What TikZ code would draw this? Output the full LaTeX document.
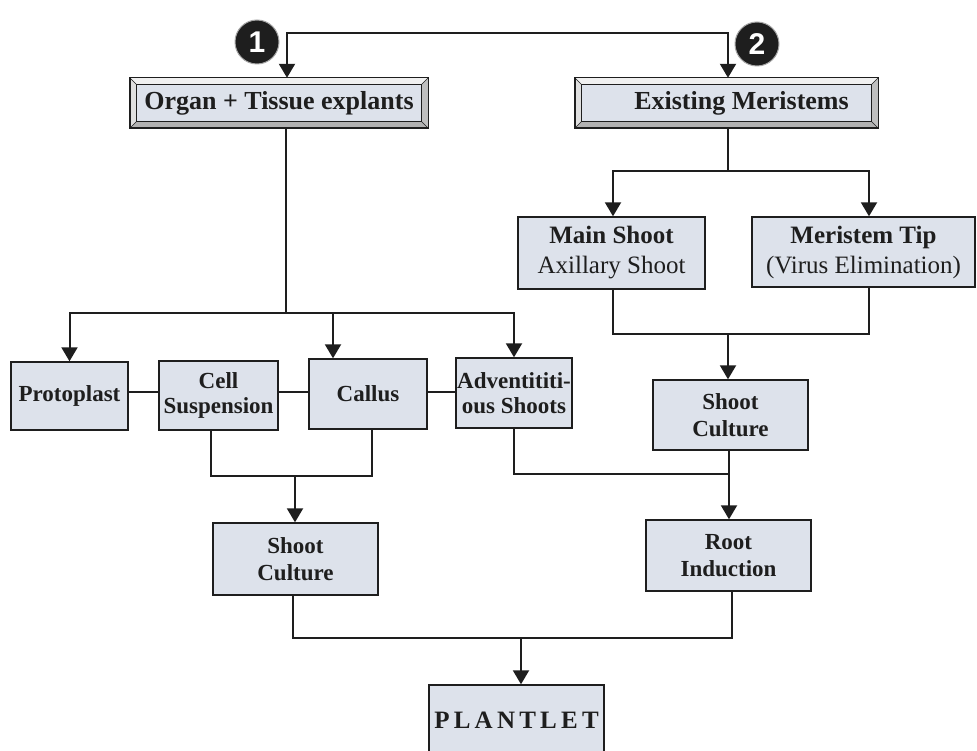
\documentclass[tikz,border=0pt]{standalone}
\usepackage{fontspec}
\setmainfont{Liberation Serif}
\newfontfamily\digitfont{Liberation Sans}
\usetikzlibrary{arrows.meta,backgrounds,calc}
\definecolor{boxfill}{HTML}{DDE2EB}
\definecolor{ink}{HTML}{1E1E1E}
\newcommand{\bevelframe}[1]{%
  \fill[gray!12] (#1.north west) -- (#1.north east) -- ([shift={(-7pt,-7pt)}]#1.north east) -- ([shift={(7pt,-7pt)}]#1.north west) -- cycle;
  \fill[gray!60] (#1.south west) -- (#1.south east) -- ([shift={(-7pt,7pt)}]#1.south east) -- ([shift={(7pt,7pt)}]#1.south west) -- cycle;
  \fill[gray!25] (#1.north west) -- (#1.south west) -- ([shift={(7pt,7pt)}]#1.south west) -- ([shift={(7pt,-7pt)}]#1.north west) -- cycle;
  \fill[gray!50] (#1.north east) -- (#1.south east) -- ([shift={(-7pt,7pt)}]#1.south east) -- ([shift={(-7pt,-7pt)}]#1.north east) -- cycle;
  \draw[ink, line width=0.6pt] (#1.north west) -- ([shift={(7pt,-7pt)}]#1.north west);
  \draw[ink, line width=0.6pt] (#1.north east) -- ([shift={(-7pt,-7pt)}]#1.north east);
  \draw[ink, line width=0.6pt] (#1.south west) -- ([shift={(7pt,7pt)}]#1.south west);
  \draw[ink, line width=0.6pt] (#1.south east) -- ([shift={(-7pt,7pt)}]#1.south east);
  \draw[ink, line width=1.4pt] (#1.north west) rectangle (#1.south east);
  \draw[ink, line width=1.2pt, fill=boxfill] ([shift={(7pt,-7pt)}]#1.north west) rectangle ([shift={(-7pt,7pt)}]#1.south east);
}
\begin{document}
\begin{tikzpicture}[x=1pt,y=-1pt,
  box/.style={draw=ink, line width=1.4pt, fill=boxfill, align=center, inner sep=0pt,
    text=ink, font=\bfseries\fontsize{23}{25}\selectfont},
  boxbig/.style={box, font=\bfseries\fontsize{25}{30}\selectfont},
  boxmid/.style={box, font=\bfseries\fontsize{23}{27}\selectfont},
  bevbox/.style={draw=none, align=center, inner sep=0pt, text=ink,
    font=\bfseries\fontsize{26}{28}\selectfont},
  numdot/.style={circle, fill=ink, draw=gray!70, line width=1pt, minimum size=44pt,
    inner sep=0pt, text=white, font=\digitfont\bfseries\fontsize{30}{30}\selectfont},
  link/.style={draw=ink, line width=2pt},
  arr/.style={link, -{Triangle[width=16pt,length=14pt]}},
  arrboth/.style={link, {Triangle[width=16pt,length=14pt]}-{Triangle[width=16pt,length=14pt]}}
]
\useasboundingbox (0,0) rectangle (977,751);

% top boxes
\node[bevbox, minimum width=298pt, minimum height=50pt] (organ) at (279,103) {Organ + Tissue explants};
\node[bevbox, minimum width=303pt, minimum height=50pt] (exist) at (726.5,103) {\hspace*{30pt}Existing Meristems};
\begin{pgfonlayer}{background}
  \fill[white] (0,0) rectangle (977,751);
  \bevelframe{organ}
  \bevelframe{exist}
\end{pgfonlayer}

% numbered markers
\node[numdot] (n1) at (257,42) {1};
\node[numdot] (n2) at (757,44) {2};

% row of explant outcomes
\node[box, minimum width=117pt, minimum height=68pt] (proto) at (69.5,396) {Protoplast};
\node[box, minimum width=119pt, minimum height=69pt] (cell) at (218.5,395.5) {Cell\\Suspension};
\node[box, minimum width=118pt, minimum height=70pt] (callus) at (368,394) {Callus};
\node[box, minimum width=116pt, minimum height=70pt] (advent) at (514,393) {Adventititi-\\ous Shoots};

% meristem branch
\node[boxbig, minimum width=187pt, minimum height=72pt] (mainshoot) at (611.5,253) {Main Shoot\\{\mdseries Axillary Shoot}};
\node[boxbig, minimum width=223pt, minimum height=70pt] (meritip) at (863.5,252) {Meristem Tip\\{\mdseries (Virus Elimination)}};
\node[boxmid, minimum width=155pt, minimum height=70pt] (shootR) at (730.5,415) {Shoot\\Culture};

% lower boxes
\node[boxmid, minimum width=165pt, minimum height=72pt] (shootL) at (295.5,559) {Shoot\\Culture};
\node[boxmid, minimum width=165pt, minimum height=71pt] (root) at (728.5,555.5) {Root\\Induction};
\node[box, minimum width=175pt, minimum height=70pt,
  font=\bfseries\fontsize{25}{25}\selectfont\addfontfeature{LetterSpace=17}] (plantlet) at (516.5,720) {PLANTLET};

% junction coordinates
\coordinate (tl) at (287,33);
\coordinate (tr) at (728,33);
\coordinate (s1) at (286,313);
\coordinate (cA) at (333,313);
\coordinate (hy) at (0,392);
\coordinate (j1) at (295,476);
\coordinate (j2) at (729,474);
\coordinate (j3) at (728,171);
\coordinate (j4) at (728,334);
\coordinate (j5) at (521,638);

% connectors
\draw[arrboth] (organ.north -| tl) -- (tl) -- (tr) -- (exist.north -| tr);

\draw[link] (organ.south -| s1) -- (s1);
\draw[arr] (s1) -| (proto.north);
\draw[arr] (s1) -| (advent.north);
\draw[arr] (cA) -- (cA |- callus.north);

\draw[link] (proto.east |- hy) -- (cell.west |- hy);
\draw[link] (cell.east |- hy) -- (callus.west |- hy);
\draw[link] (callus.east |- hy) -- (advent.west |- hy);

\draw[link] ([xshift=-7.5pt]cell.south) |- (j1) -| ([xshift=4pt]callus.south);
\draw[arr] (j1) -- (j1 |- shootL.north);

\draw[link] (exist.south -| j3) -- (j3);
\draw[arr] (j3) -| ([xshift=1.5pt]mainshoot.north);
\draw[arr] (j3) -| ([xshift=5.5pt]meritip.north);

\draw[link] ([xshift=1.5pt]mainshoot.south) |- (j4) -| ([xshift=5.5pt]meritip.south);
\draw[arr] (j4) -- (j4 |- shootR.north);

\draw[link] (advent.south) |- (j2);
\draw[link] (j2 |- shootR.south) -- (j2);
\draw[arr] (j2) -- (j2 |- root.north);

\draw[link] ([xshift=-2.5pt]shootL.south) |- (j5) -| ([xshift=3.5pt]root.south);
\draw[arr] (j5) -- (j5 |- plantlet.north);
\end{tikzpicture}
\end{document}
